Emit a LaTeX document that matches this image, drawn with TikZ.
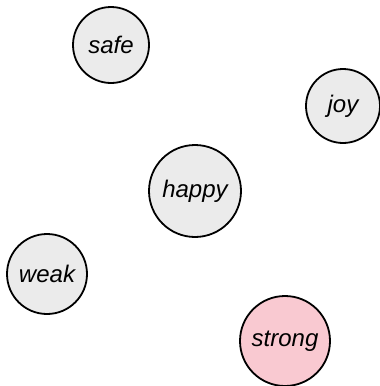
\documentclass[tikz,border=0pt]{standalone}
\usepackage{fontspec}
\setmainfont{Liberation Sans}
\definecolor{nodegray}{HTML}{EBEBEB}
\definecolor{nodepink}{HTML}{F9C9D1}
\begin{document}
\begin{tikzpicture}[x=1pt,y=-1pt,
  word/.style={circle,draw=black,line width=1.8pt,fill=nodegray,inner sep=0pt,
    font=\fontsize{24}{26}\selectfont\itshape}]
\useasboundingbox (0,0) rectangle (380,386);
\node[word,minimum size=76pt] (safe) at (111,45) {safe};
\node[word,minimum size=74pt] (joy) at (343,106) {joy};
\node[word,minimum size=92pt] (happy) at (195,191) {happy};
\node[word,minimum size=80pt] (weak) at (47,274) {weak};
\node[word,minimum size=90pt,fill=nodepink] (strong) at (285,341) {strong};
\end{tikzpicture}
\end{document}
